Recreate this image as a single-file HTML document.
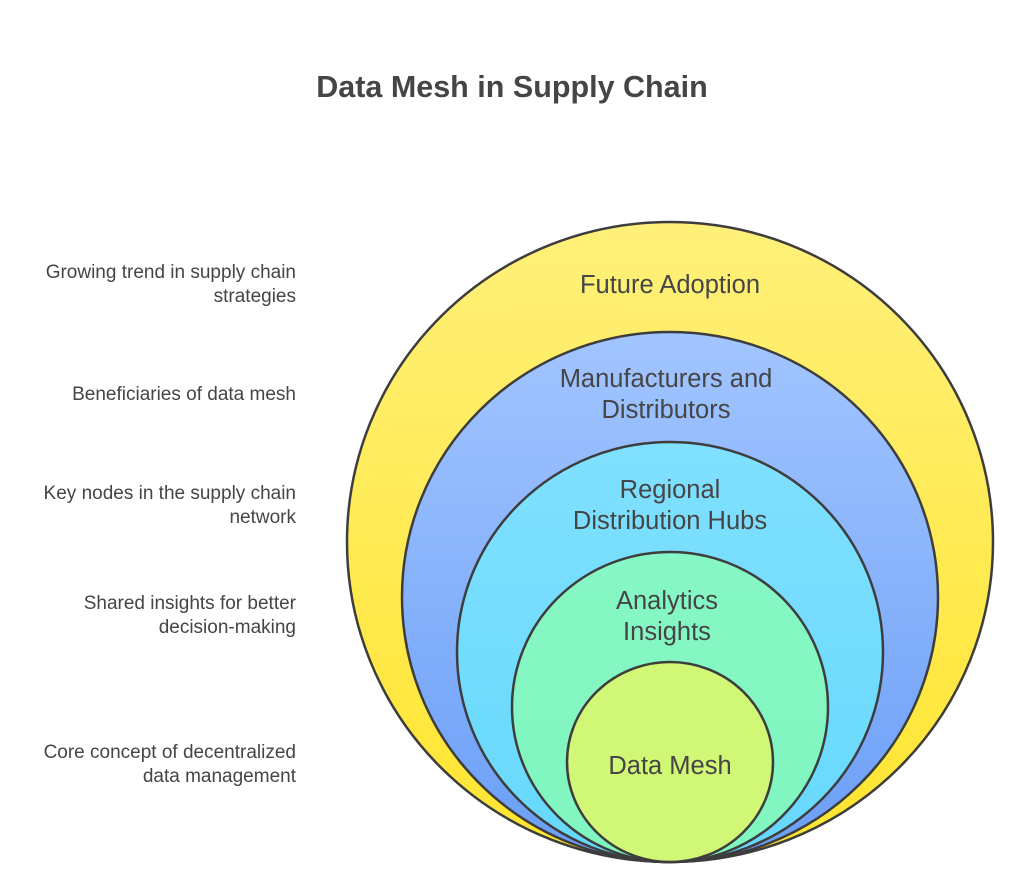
<!DOCTYPE html>
<html><head><meta charset="utf-8"><style>
html,body{margin:0;padding:0;background:#fff;}
svg{display:block;}
text{font-family:"Liberation Sans",sans-serif;fill:#454545;}
</style></head><body>
<svg width="1024" height="885" viewBox="0 0 1024 885" xmlns="http://www.w3.org/2000/svg">
<defs>
<linearGradient id="gy" x1="0" y1="0" x2="0" y2="1"><stop offset="0" stop-color="#fff07a"/><stop offset="1" stop-color="#ffe52e"/></linearGradient>
<linearGradient id="gb" x1="0" y1="0" x2="0" y2="1"><stop offset="0" stop-color="#a2c5ff"/><stop offset="1" stop-color="#6a9ef7"/></linearGradient>
<linearGradient id="gc" x1="0" y1="0" x2="0" y2="1"><stop offset="0" stop-color="#80e0ff"/><stop offset="1" stop-color="#66d8fb"/></linearGradient>
<linearGradient id="gg" x1="0" y1="0" x2="0" y2="1"><stop offset="0" stop-color="#86f7c4"/><stop offset="1" stop-color="#80f6bf"/></linearGradient>
</defs>
<text x="512" y="97" text-anchor="middle" font-size="30.5" font-weight="bold">Data Mesh in Supply Chain</text>
<g font-size="19" text-anchor="end">
<text x="296" y="278">Growing trend in supply chain</text>
<text x="296" y="302">strategies</text>
<text x="296" y="400">Beneficiaries of data mesh</text>
<text x="296" y="499">Key nodes in the supply chain</text>
<text x="296" y="523">network</text>
<text x="296" y="609">Shared insights for better</text>
<text x="296" y="633">decision-making</text>
<text x="296" y="758">Core concept of decentralized</text>
<text x="296" y="782">data management</text>
</g>
<g stroke="#3d3d3d" stroke-width="2.5">
<ellipse cx="670" cy="542" rx="323" ry="320" fill="url(#gy)"/>
<ellipse cx="670" cy="597" rx="268" ry="265" fill="url(#gb)"/>
<ellipse cx="670" cy="652" rx="213" ry="210" fill="url(#gc)"/>
<ellipse cx="670" cy="707" rx="158" ry="155" fill="url(#gg)"/>
<ellipse cx="670" cy="762" rx="103" ry="100" fill="#d1f777"/>
</g>
<g font-size="25.5" text-anchor="middle">
<text x="670" y="293">Future Adoption</text>
<text x="666" y="387">Manufacturers and</text>
<text x="666" y="418">Distributors</text>
<text x="670" y="498">Regional</text>
<text x="670" y="529">Distribution Hubs</text>
<text x="667" y="609">Analytics</text>
<text x="667" y="640">Insights</text>
<text x="670" y="774">Data Mesh</text>
</g>
</svg>
</body></html>
